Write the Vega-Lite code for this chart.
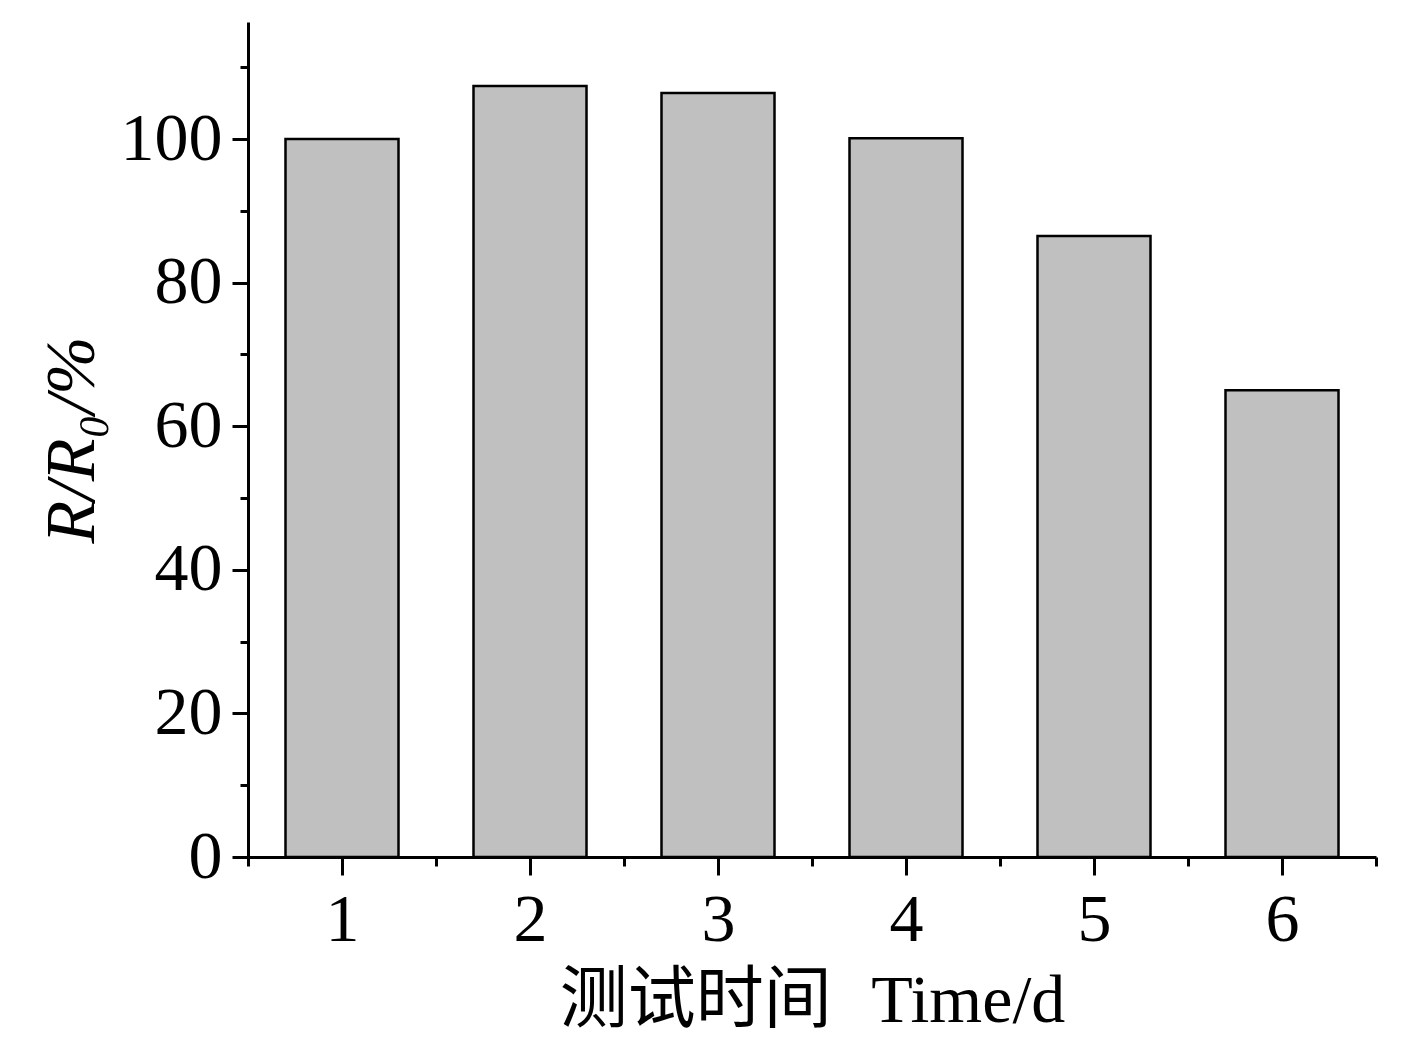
{
  "$schema": "https://vega.github.io/schema/vega-lite/v6.json",
  "width": 1128,
  "height": 835,
  "autosize": "none",
  "padding": {"left": 248, "top": 22, "right": 52, "bottom": 193},
  "background": "white",
  "config": {
    "view": {"stroke": null},
    "axis": {
      "grid": false,
      "domainColor": "black",
      "domainWidth": 3,
      "tickColor": "black",
      "tickWidth": 3,
      "labelFont": "Liberation Serif",
      "labelFontSize": 68,
      "labelColor": "black",
      "titleColor": "black",
      "titleFontWeight": "normal"
    }
  },
  "data": {
    "values": [
      {"time": 1, "ratio": 100.0},
      {"time": 2, "ratio": 107.4},
      {"time": 3, "ratio": 106.4},
      {"time": 4, "ratio": 100.1},
      {"time": 5, "ratio": 86.5},
      {"time": 6, "ratio": 65.0}
    ]
  },
  "layer": [
    {
      "mark": {"type": "bar", "fill": "#c0c0c0", "stroke": "black", "strokeWidth": 2.5, "size": 113},
      "encoding": {
        "x": {
          "field": "time",
          "type": "quantitative",
          "scale": {"domain": [0.5, 6.5], "nice": false, "zero": false, "padding": 0},
          "axis": {
            "orient": "bottom",
            "values": [1, 2, 3, 4, 5, 6],
            "tickSize": 18,
            "labelPadding": 11,
            "title": "测试时间\u2002\u200aTime/d",
            "titleFont": "Liberation Serif, Noto Sans CJK SC",
            "titleFontSize": 68,
            "titlePadding": 13
          }
        },
        "y": {
          "field": "ratio",
          "type": "quantitative",
          "scale": {"domain": [0, 116.3], "nice": false, "padding": 0},
          "axis": {
            "orient": "left",
            "values": [0, 20, 40, 60, 80, 100],
            "tickSize": 16,
            "labelPadding": 10,
            "title": "R/R₀/%",
            "titleFont": "Liberation Serif",
            "titleFontStyle": "italic",
            "titleFontSize": 70,
            "titlePadding": 12
          }
        }
      }
    },
    {
      "mark": {"type": "bar", "opacity": 0, "size": 113},
      "encoding": {
        "x": {
          "field": "time",
          "type": "quantitative",
          "axis": {
            "orient": "bottom",
            "values": [0.5, 1.5, 2.5, 3.5, 4.5, 5.5, 6.5],
            "tickSize": 9,
            "labels": false,
            "domain": false,
            "title": null
          }
        },
        "y": {
          "field": "ratio",
          "type": "quantitative",
          "axis": {
            "orient": "left",
            "values": [10, 30, 50, 70, 90, 110],
            "tickSize": 8,
            "labels": false,
            "domain": false,
            "title": null
          }
        }
      }
    }
  ],
  "resolve": {"axis": {"x": "independent", "y": "independent"}}
}
